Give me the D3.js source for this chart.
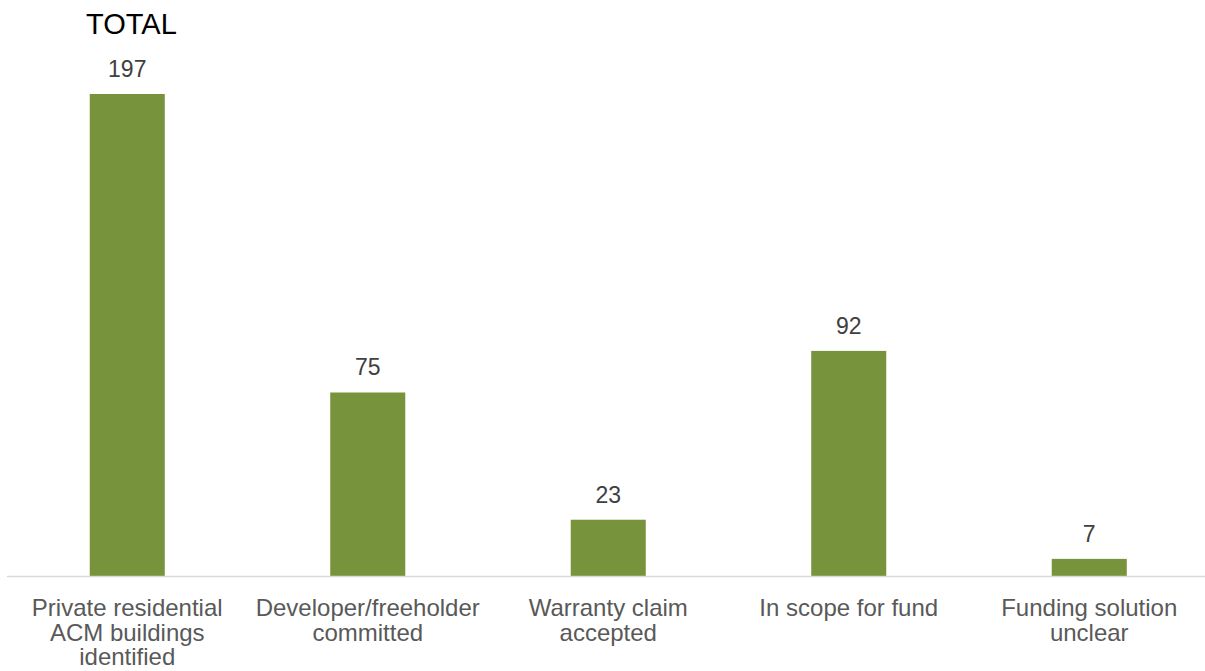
<!DOCTYPE html>
<html><head><meta charset="utf-8">
<script src="https://cdn.jsdelivr.net/npm/d3@7"></script>
<style>body{margin:0;background:#fff;}svg{display:block;}</style>
</head><body>
<svg id="c" width="1205" height="671"></svg>
<script>
const categories = [
  ["Private residential","ACM buildings","identified"],
  ["Developer/freeholder","committed"],
  ["Warranty claim","accepted"],
  ["In scope for fund"],
  ["Funding solution","unclear"]
];
const values = [197, 75, 23, 92, 7];
const title = "TOTAL";

const svg = d3.select("#c");
const font = "Liberation Sans, Arial, sans-serif";
const baseY = 576;
const x = d3.scaleBand().domain(d3.range(values.length)).range([7, 1209.5]).paddingInner(0.688).paddingOuter(0.344);
const y = d3.scaleLinear().domain([0, 197]).range([baseY, 94]);

svg.append("text").attr("x", 86).attr("y", 34).attr("font-family", font).attr("font-size", 29).attr("fill", "#000").text(title);

svg.selectAll("rect.bar").data(values).join("rect")
  .attr("x", (d,i) => x(i)).attr("width", x.bandwidth())
  .attr("y", d => y(d)).attr("height", d => y(0) - y(d))
  .attr("fill", "#77933C");

svg.append("line").attr("x1", 7).attr("x2", 1205).attr("y1", baseY + 0.5).attr("y2", baseY + 0.5)
  .attr("stroke", "#d9d9d9").attr("stroke-width", 1.5);

svg.selectAll("text.val").data(values).join("text")
  .attr("x", (d,i) => x(i) + x.bandwidth()/2).attr("y", d => y(d) - 17)
  .attr("text-anchor", "middle").attr("font-family", font).attr("font-size", 23).attr("fill", "#404040")
  .text(d => d);

const lab = svg.selectAll("text.cat").data(categories).join("text")
  .attr("text-anchor", "middle").attr("font-family", font).attr("font-size", 24).attr("fill", "#595959");
lab.each(function(lines, i) {
  const t = d3.select(this);
  lines.forEach((l, j) => {
    t.append("tspan").attr("x", x(i) + x.bandwidth()/2).attr("y", 616 + j*24.7).text(l);
  });
});
</script>
</body></html>
